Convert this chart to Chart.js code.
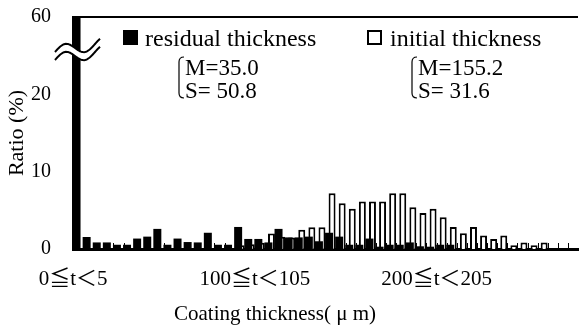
<!DOCTYPE html>
<html>
<head>
<meta charset="utf-8">
<script src="https://cdn.jsdelivr.net/npm/chart.js@4.4.1/dist/chart.umd.min.js"></script>
<style>
html, body { margin: 0; padding: 0; background: #fff; }
#wrap { width: 579px; height: 331px; }
</style>
</head>
<body>
<div id="wrap"><canvas id="barChart" width="579" height="331"></canvas></div>
<script>
// 5 um bins, 0 .. 250
var categories = [];
for (var b = 0; b < 50; b++) {
  categories.push((b * 5) + '≦t＜' + (b * 5 + 5));
}

var seriesNames = ["residual thickness", "initial thickness"];

var residual = [58.6, 1.55, 0.85, 0.85, 0.55, 0.55, 1.35, 1.6, 2.6, 0.55,
  1.35, 0.9, 0.85, 2.1, 0.55, 0.55, 2.85, 1.3, 1.3, 0.85,
  2.6, 1.5, 1.5, 1.6, 1.0, 2.1, 1.6, 0.55, 0.55, 1.35,
  0.3, 0.55, 0.55, 0.85, 0.35, 0.3, 0.55, 0.55, 0, 0,
  0, 0, 0, 0, 0, 0, 0, 0, 0, 0];

var initial = [0, 0, 0, 0, 0, 0, 0, 0, 0, 0,
  0, 0, 0, 0, 0, 0, 0.5, 0.6, 0.8, 2.0,
  1.6, 1.5, 2.5, 2.8, 2.8, 7.2, 5.9, 5.2, 6.15, 6.15,
  6.15, 7.2, 7.2, 5.4, 4.65, 5.2, 4.1, 2.85, 2.05, 2.85,
  1.75, 1.3, 1.75, 0.5, 0.85, 0.5, 0.85, 0, 0, 0];

// tick labels shown under the axis and where they sit
var tickText = ['0≦t＜5', '100≦t＜105', '200≦t＜205'];
var tickAt = [0, 18, 36];

// y axis: 0-20 normal, top of axis marked 60 (broken axis)
var yTicks = [0, 10, 20, 30];
var yTickText = ['0', '10', '20', '60'];

var statsResidual = ['M=35.0', 'S= 50.8'];
var statsInitial = ['M=155.2', 'S= 31.6'];

var serif = '"Liberation Serif", "Noto Sans CJK JP", serif';

var decor = {
  id: 'decor',
  afterDraw: function(chart) {
    var ctx = chart.ctx;
    var a = chart.chartArea;
    var xs = chart.scales.x;
    var step = xs.getPixelForValue(1) - xs.getPixelForValue(0);
    ctx.save();

    // small inside tick marks between categories
    ctx.strokeStyle = '#000';
    ctx.lineWidth = 1;
    for (var i = 1; i < categories.length; i++) {
      var px = Math.round(xs.getPixelForValue(i) - step / 2) + 0.5;
      ctx.beginPath();
      ctx.moveTo(px, a.bottom);
      ctx.lineTo(px, a.bottom - 6);
      ctx.stroke();
    }

    // top frame line
    ctx.lineWidth = 2;
    ctx.beginPath();
    ctx.moveTo(a.left, a.top);
    ctx.lineTo(a.right, a.top);
    ctx.stroke();

    // axis break mark
    var x0 = a.left - 18, x1 = a.left + 27, y0 = a.top + 35, gap = 8;
    function wave(y, back) {
      var pts = [];
      for (var x = x0; x <= x1; x++) {
        var t = x - x0;
        pts.push([x, y - 6 * Math.sin(2 * Math.PI * t / 40) - t * 0.2]);
      }
      if (back) pts.reverse();
      return pts;
    }
    var up = wave(y0, false), lo = wave(y0 + gap, true);
    ctx.fillStyle = '#fff';
    ctx.beginPath();
    up.concat(lo).forEach(function(p, k) { k ? ctx.lineTo(p[0], p[1]) : ctx.moveTo(p[0], p[1]); });
    ctx.closePath();
    ctx.fill();
    ctx.lineWidth = 2;
    [up, lo].forEach(function(line) {
      ctx.beginPath();
      line.forEach(function(p, k) { k ? ctx.lineTo(p[0], p[1]) : ctx.moveTo(p[0], p[1]); });
      ctx.stroke();
    });

    // legend
    ctx.fillStyle = '#000';
    ctx.font = '24px ' + serif;
    ctx.textBaseline = 'alphabetic';
    ctx.textAlign = 'left';
    ctx.fillRect(123, 30, 15, 15);
    ctx.fillText(seriesNames[0], 145, 46);
    ctx.lineWidth = 2;
    ctx.strokeRect(368, 31, 13, 13);
    ctx.fillText(seriesNames[1], 390, 46);

    // M / S notes with bracket
    ctx.font = '23px ' + serif;
    function note(x, lines) {
      ctx.lineWidth = 1.2;
      ctx.beginPath();
      ctx.moveTo(x + 5, 57);
      ctx.quadraticCurveTo(x, 57, x, 62);
      ctx.lineTo(x, 93);
      ctx.quadraticCurveTo(x, 98, x + 5, 98);
      ctx.stroke();
      ctx.fillText(lines[0], x + 6, 75);
      ctx.fillText(lines[1], x + 6, 98);
    }
    note(179, statsResidual);
    note(412, statsInitial);

    // x axis title
    ctx.font = '21px ' + serif;
    ctx.textAlign = 'center';
    ctx.fillText('Coating thickness( μ m)', 275, 320);
    ctx.restore();
  }
};

var ctxB = document.getElementById('barChart').getContext('2d');
var chart = new Chart(ctxB, {
  type: 'bar',
  data: {
    labels: categories,
    datasets: [{
      label: seriesNames[0],
      data: residual,
      backgroundColor: '#000',
      borderWidth: 0,
      categoryPercentage: 0.6,
      barPercentage: 2.64
    }, {
      label: seriesNames[1],
      data: initial,
      backgroundColor: '#fff',
      borderColor: '#000',
      borderWidth: 2,
      categoryPercentage: 0.6,
      barPercentage: 2.3
    }]
  },
  options: {
    responsive: false,
    animation: false,
    devicePixelRatio: 1,
    color: '#000',
    layout: { padding: { top: 17, right: 1, left: 0, bottom: 0 } },
    plugins: {
      legend: { display: false },
      tooltip: { enabled: false }
    },
    scales: {
      x: {
        z: 1,
        grid: { display: false, drawTicks: false },
        border: { display: true, color: '#000', width: 3 },
        ticks: {
          autoSkip: false,
          maxRotation: 0,
          color: '#000',
          padding: 18,
          labelOffset: -5,
          font: { family: serif, size: 21 },
          callback: function(v, i) {
            var k = tickAt.indexOf(i);
            return k < 0 ? '' : tickText[k];
          }
        },
        afterFit: function(s) {
          s.height = 82;
          s.paddingLeft = 0;
          s.paddingRight = 0;
        }
      },
      y: {
        min: 0,
        max: 30,
        grid: { display: false, drawTicks: false },
        border: { display: true, color: '#000', width: 2 },
        afterBuildTicks: function(s) {
          s.ticks = yTicks.map(function(v) { return { value: v }; });
        },
        ticks: {
          color: '#000',
          padding: 22,
          font: { family: serif, size: 20 },
          callback: function(v) {
            return yTickText[yTicks.indexOf(v)];
          }
        },
        title: {
          display: true,
          text: 'Ratio (%)',
          color: '#000',
          font: { family: serif, size: 22 },
          padding: { top: 4, bottom: 0 }
        },
        afterFit: function(s) {
          s.width = 73;
          s.paddingTop = 0;
          s.paddingBottom = 0;
        }
      }
    }
  },
  plugins: [decor]
});
</script>
</body>
</html>
